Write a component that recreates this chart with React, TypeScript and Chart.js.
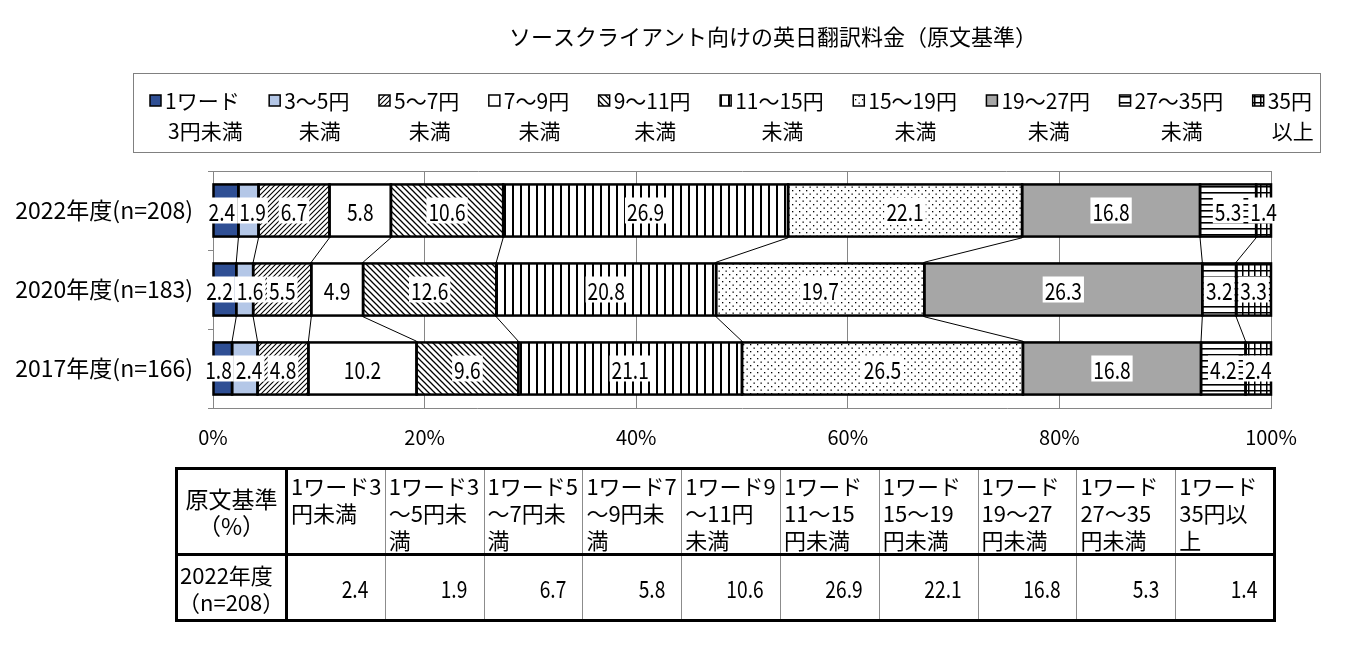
import React, { useEffect, useRef } from 'react';
import { Chart, registerables } from 'chart.js';
Chart.register(...registerables);

const TITLE = 'ソースクライアント向けの英日翻訳料金（原文基準）';
const categories = ['2022年度(n=208)', '2020年度(n=183)', '2017年度(n=166)'];
const seriesNames = [
  '1ワード3円未満', '1ワード3～5円未満', '1ワード5～7円未満', '1ワード7～9円未満', '1ワード9～11円未満',
  '1ワード11～15円未満', '1ワード15～19円未満', '1ワード19～27円未満', '1ワード27～35円未満', '1ワード35円以上',
];
const legendLabels = [
  ['1ワード', '3円未満'], ['3～5円', '未満'], ['5～7円', '未満'], ['7～9円', '未満'], ['9～11円', '未満'],
  ['11～15円', '未満'], ['15～19円', '未満'], ['19～27円', '未満'], ['27～35円', '未満'], ['35円', '以上'],
];
const under3 = [2.4, 2.2, 1.8];
const from3to5 = [1.9, 1.6, 2.4];
const from5to7 = [6.7, 5.5, 4.8];
const from7to9 = [5.8, 4.9, 10.2];
const from9to11 = [10.6, 12.6, 9.6];
const from11to15 = [26.9, 20.8, 21.1];
const from15to19 = [22.1, 19.7, 26.5];
const from19to27 = [16.8, 26.3, 16.8];
const from27to35 = [5.3, 3.2, 4.2];
const over35 = [1.4, 3.3, 2.4];
const xTicks = [0, 20, 40, 60, 80, 100];
const tableHeaderTitle = ['原文基準', '（%）'];
const tableRowLabel = ['2022年度', '（n=208）'];
const tableHeaders = [
  ['1ワード3', '円未満'], ['1ワード3', '～5円未', '満'], ['1ワード5', '～7円未', '満'], ['1ワード7', '～9円未', '満'],
  ['1ワード9', '～11円', '未満'], ['1ワード', '11～15', '円未満'], ['1ワード', '15～19', '円未満'],
  ['1ワード', '19～27', '円未満'], ['1ワード', '27～35', '円未満'], ['1ワード', '35円以', '上'],
];

const series = [under3, from3to5, from5to7, from7to9, from9to11, from11to15, from15to19, from19to27, from27to35, over35];
const fills = ['#2F4F94', '#B4C7E7', 'up', '#FFFFFF', 'down', 'vert', 'dots', '#A6A6A6', 'horiz', 'grid'];

const FONT = '"Noto Sans CJK JP", sans-serif';
const CONDENSE = 0.8;

function makeFill(kind: string): any {
  if (kind.startsWith('#')) return kind;
  const c = document.createElement('canvas');
  let w = 8, h = 8;
  if (kind === 'up') { w = h = 5; }
  if (kind === 'down') { w = h = 6; }
  if (kind === 'dots') { w = h = 7; }
  if (kind === 'horiz') { w = 8; h = 6; }
  if (kind === 'grid') { w = h = 6; }
  c.width = w; c.height = h;
  const g = c.getContext('2d')!;
  g.fillStyle = '#fff';
  g.fillRect(0, 0, w, h);
  g.strokeStyle = '#000';
  g.fillStyle = '#000';
  if (kind === 'up') {
    g.lineWidth = 1.1;
    g.beginPath();
    g.moveTo(0, h); g.lineTo(w, 0);
    g.moveTo(-1, 1); g.lineTo(1, -1);
    g.moveTo(w - 1, h + 1); g.lineTo(w + 1, h - 1);
    g.stroke();
  } else if (kind === 'down') {
    g.lineWidth = 1.3;
    g.beginPath();
    g.moveTo(0, 0); g.lineTo(w, h);
    g.moveTo(-1, h - 1); g.lineTo(1, h + 1);
    g.moveTo(w - 1, -1); g.lineTo(w + 1, 1);
    g.stroke();
  } else if (kind === 'vert') {
    g.fillRect(0, 0, 2, h);
  } else if (kind === 'dots') {
    g.fillRect(1, 1, 1.3, 1.3);
    g.fillRect(4.5, 4.5, 1.3, 1.3);
  } else if (kind === 'horiz') {
    g.fillRect(0, 0, w, 1.6);
  } else if (kind === 'grid') {
    g.fillRect(0, 0, w, 1.5);
    g.fillRect(0, 0, 1.5, h);
  }
  const main = document.createElement('canvas').getContext('2d')!;
  return main.createPattern(c, 'repeat');
}

const overlayPlugin = {
  id: 'overlay',
  afterDatasetsDraw(chart: any) {
    const ctx = chart.ctx as CanvasRenderingContext2D;
    const metas = chart.data.datasets.map((_: any, i: number) => chart.getDatasetMeta(i));
    const props = (el: any) => el.getProps(['x', 'base', 'y', 'height'], true);
    ctx.save();
    ctx.strokeStyle = '#000';
    ctx.lineWidth = 2.5;
    metas.forEach((m: any) => m.data.forEach((el: any) => {
      const p = props(el);
      ctx.strokeRect(Math.min(p.x, p.base), p.y - p.height / 2, Math.abs(p.x - p.base), p.height);
    }));
    ctx.lineWidth = 1;
    for (let k = 0; k < metas.length - 1; k++) {
      const els = metas[k].data;
      for (let r = 0; r < els.length - 1; r++) {
        const a = props(els[r]);
        const b = props(els[r + 1]);
        ctx.beginPath();
        ctx.moveTo(a.x, a.y + a.height / 2 + 1.2);
        ctx.lineTo(b.x, b.y - b.height / 2 - 1.2);
        ctx.stroke();
      }
    }
    ctx.font = `24px ${FONT}`;
    ctx.textAlign = 'center';
    ctx.textBaseline = 'middle';
    const rows = chart.data.labels.length;
    for (let r = 0; r < rows; r++) {
      const boxes = metas.map((m: any, k: number) => {
        const p = props(m.data[r]);
        const txt = series[k][r].toFixed(1);
        const w = ctx.measureText(txt).width * CONDENSE + 4;
        return { txt, cx: (p.x + p.base) / 2, w, y: p.y };
      });
      for (let pass = 0; pass < 6; pass++) {
        for (let i = 0; i < boxes.length - 1; i++) {
          const a = boxes[i], b = boxes[i + 1];
          const ov = (a.cx + a.w / 2) - (b.cx - b.w / 2);
          if (ov > 0) { a.cx -= ov / 2; b.cx += ov / 2; }
        }
      }
      boxes.forEach((b: any) => {
        ctx.fillStyle = '#fff';
        ctx.fillRect(b.cx - b.w / 2, b.y - 13, b.w, 26);
        ctx.fillStyle = '#000';
        ctx.save();
        ctx.translate(b.cx, b.y + 1);
        ctx.scale(CONDENSE, 1);
        ctx.fillText(b.txt, 0, 0);
        ctx.restore();
      });
    }
    ctx.restore();
  },
  afterDraw(chart: any) {
    const ctx = chart.ctx as CanvasRenderingContext2D;
    ctx.save();
    ctx.fillStyle = '#000';
    ctx.font = `22px ${FONT}`;
    ctx.textAlign = 'center';
    ctx.textBaseline = 'middle';
    ctx.fillText(TITLE, 773, 37);
    ctx.strokeStyle = '#808080';
    ctx.lineWidth = 1;
    ctx.strokeRect(133.5, 73.5, 1187, 79);
    ctx.font = `21px ${FONT}`;
    const sw = 11, sgap = 4;
    const widths = legendLabels.map(l => sw + sgap + Math.max(ctx.measureText(l[0]).width, ctx.measureText(l[1]).width));
    const startX = 150, endX = 1312;
    const total = widths.reduce((a, b) => a + b, 0);
    const gap = (endX - startX - total) / (legendLabels.length - 1);
    let x = startX;
    legendLabels.forEach((l, i) => {
      ctx.fillStyle = chart.data.datasets[i].backgroundColor;
      ctx.fillRect(x, 95, sw, sw);
      ctx.strokeStyle = '#000';
      ctx.lineWidth = 1.5;
      ctx.strokeRect(x, 95, sw, sw);
      ctx.fillStyle = '#000';
      ctx.textAlign = 'left';
      const tx = x + sw + sgap;
      const w1 = ctx.measureText(l[0]).width;
      ctx.fillText(l[0], tx, 101);
      ctx.textAlign = 'center';
      ctx.fillText(l[1], tx + w1 / 2 + 3, 131);
      x += widths[i] + gap;
    });
    ctx.restore();
  },
};

export default function App() {
  const ref = useRef<HTMLCanvasElement | null>(null);
  useEffect(() => {
    if (!ref.current) return;
    Chart.defaults.color = '#000';
    const totals = categories.map((_, r) => series.reduce((s, arr) => s + arr[r], 0));
    const chart = new Chart(ref.current, {
      type: 'bar',
      data: {
        labels: categories,
        datasets: series.map((arr, k) => ({
          label: seriesNames[k],
          data: arr.map((v, r) => (v / totals[r]) * 100),
          backgroundColor: makeFill(fills[k]),
          borderWidth: 0,
          categoryPercentage: 1,
          barPercentage: 0.66,
        })),
      },
      options: {
        indexAxis: 'y',
        animation: false,
        responsive: false,
        devicePixelRatio: 1,
        layout: { padding: { top: 171, left: 0, right: 79, bottom: 212 } },
        plugins: { legend: { display: false }, tooltip: { enabled: false }, title: { display: false } },
        scales: {
          x: {
            stacked: true,
            min: 0,
            max: 100,
            afterBuildTicks: (s: any) => { s.ticks = xTicks.map(v => ({ value: v })); },
            afterFit: (s: any) => { s.height = 40; },
            ticks: { callback: (v: any) => `${v}%`, font: { family: FONT, size: 20 }, color: '#000', padding: 17, maxRotation: 0 },
            grid: { color: '#868686', lineWidth: 1, drawTicks: false },
            border: { color: '#868686' },
          },
          y: {
            stacked: true,
            afterFit: (s: any) => { s.width = 213; },
            ticks: { font: { family: FONT, size: 23 }, color: '#000', padding: 15 },
            grid: {
              color: (c: any) => (c.index === 0 || c.index === 3 ? '#868686' : 'rgba(0,0,0,0)'),
              tickColor: '#868686',
              tickLength: 5,
              drawOnChartArea: true,
            },
            border: { color: '#868686' },
          },
        },
      },
      plugins: [overlayPlugin],
    } as any);
    return () => chart.destroy();
  }, []);

  const cell: React.CSSProperties = { border: '1px solid #8c8c8c', padding: 0, fontSize: 22, lineHeight: '27px' };
  return (
    <div style={{ position: 'absolute', left: 0, top: 0, width: 1350, height: 660, background: '#fff', fontFamily: FONT, color: '#000' }}>
      <canvas ref={ref} width={1350} height={660} style={{ position: 'absolute', left: 0, top: 0, width: 1350, height: 660 }} />
      <table style={{ position: 'absolute', left: 175, top: 467, width: 1098, height: 150, borderCollapse: 'collapse', tableLayout: 'fixed', border: '3px solid #000' }}>
        <colgroup>
          <col style={{ width: 110 }} />
          {tableHeaders.map((_, i) => <col key={i} style={{ width: 98.8 }} />)}
        </colgroup>
        <tbody>
          <tr style={{ height: 84 }}>
            <td style={{ ...cell, borderRight: '3px solid #000', borderBottom: '3px solid #000', textAlign: 'center', verticalAlign: 'middle', fontSize: 23 }}>
              {tableHeaderTitle.map((l, i) => <div key={i}>{l}</div>)}
            </td>
            {tableHeaders.map((h, i) => (
              <td key={i} style={{ ...cell, borderBottom: '3px solid #000', verticalAlign: 'top', textAlign: 'left', paddingLeft: 3, paddingTop: 2 }}>
                {h.map((l, j) => <div key={j} style={{ whiteSpace: 'nowrap' }}>{l}</div>)}
              </td>
            ))}
          </tr>
          <tr style={{ height: 66 }}>
            <td style={{ ...cell, borderRight: '3px solid #000', verticalAlign: 'middle' }}>
              <div style={{ textAlign: 'left', paddingLeft: 2 }}>{tableRowLabel[0]}</div>
              <div style={{ textAlign: 'right', paddingRight: 2 }}>{tableRowLabel[1]}</div>
            </td>
            {series.map((arr, i) => (
              <td key={i} style={{ ...cell, textAlign: 'right', paddingRight: 16, verticalAlign: 'middle', fontSize: 24 }}>
                <span style={{ display: 'inline-block', transform: `scaleX(${CONDENSE})`, transformOrigin: 'right center' }}>{arr[0].toFixed(1)}</span>
              </td>
            ))}
          </tr>
        </tbody>
      </table>
    </div>
  );
}
